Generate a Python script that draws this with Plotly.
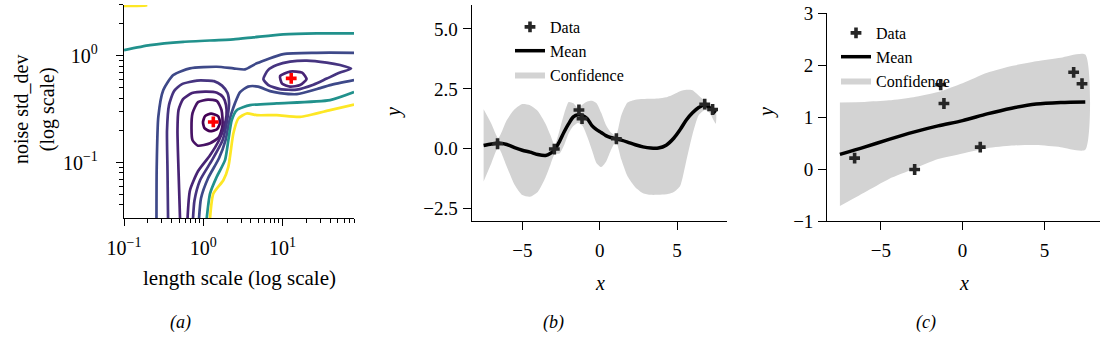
import plotly.graph_objects as go

SERIF = "'Liberation Serif', 'DejaVu Serif', 'Times New Roman', serif"
W, H = 1102, 339

# ---------------- Panel (a): contour lines ----------------
# every line: log10(length scale), log10(noise std_dev)
ring1_lx = [0.023, 0.098, 0.187, 0.212, 0.174, 0.086, 0.016, -0.003, 0.023]
ring1_ly = [-0.565, -0.542, -0.565, -0.626, -0.688, -0.706, -0.678, -0.622, -0.565]

loopA_lx = [-0.066, 0.061, 0.174, 0.231, 0.244, 0.199, 0.086, -0.066, -0.135, -0.148, -0.135, -0.066]
loopA_ly = [-0.434, -0.410, -0.424, -0.509, -0.650, -0.762, -0.819, -0.842, -0.791, -0.678, -0.537, -0.434]

ringR_lx = [0.970, 1.096, 1.248, 1.304, 1.222, 1.096, 0.995, 0.970]
ringR_ly = [-0.190, -0.147, -0.157, -0.218, -0.274, -0.288, -0.260, -0.190]

u3_lx = [-0.293, -0.312, -0.325, -0.312, -0.255, -0.141, 0.023, 0.174, 0.250, 0.288, 0.294, 0.263,
         0.199, 0.086, -0.066, -0.167, -0.198]
u3_ly = [-1.523, -1.072, -0.697, -0.509, -0.406, -0.349, -0.335, -0.345, -0.387, -0.462, -0.556, -0.669,
         -0.791, -0.932, -1.082, -1.260, -1.523]

u4_lx = [-0.444, -0.451, -0.457, -0.432, -0.369, -0.268, -0.078, 0.048, 0.136, 0.237, 0.307, 0.326,
         0.313, 0.288, 0.244, 0.111, -0.040, -0.110, -0.129]
u4_ly = [-1.523, -1.072, -0.697, -0.462, -0.331, -0.265, -0.232, -0.232, -0.237, -0.279, -0.349, -0.443,
         -0.545, -0.659, -0.791, -0.978, -1.166, -1.354, -1.523]

tear_lx = [0.759, 0.818, 0.928, 1.096, 1.307, 1.559, 1.727, 1.866, 1.727, 1.559, 1.390, 1.181, 0.970, 0.822, 0.759]
tear_ly = [-0.218, -0.133, -0.086, -0.054, -0.044, -0.063, -0.086, -0.119, -0.157, -0.213, -0.270, -0.316,
           -0.312, -0.274, -0.218]

o_top_lx = [-0.590, -0.587, -0.567, -0.504, -0.378, -0.167, 0.170, 0.380, 0.528, 0.675, 1.011, 1.433, 1.904]
o_top_ly = [-1.523, -1.041, -0.572, -0.321, -0.180, -0.117, -0.102, -0.117, -0.127, -0.070, 0.017, 0.029, 0.029]

o_low_lx = [1.904, 1.601, 1.475, 1.181, 0.970, 0.843, 0.692, 0.566, 0.465, 0.401, 0.357, 0.326, 0.282,
            0.199, 0.061, -0.028, -0.053]
o_low_ly = [-0.227, -0.274, -0.302, -0.359, -0.349, -0.331, -0.288, -0.288, -0.340, -0.443, -0.537, -0.622,
            -0.791, -0.960, -1.147, -1.335, -1.523]

teal_top_lx = [-1.0, -0.672, -0.251, 0.380, 0.633, 1.011, 1.433, 1.904]
teal_top_ly = [0.054, 0.101, 0.132, 0.155, 0.174, 0.202, 0.211, 0.211]

teal_low_lx = [0.044, 0.086, 0.170, 0.275, 0.317, 0.360, 0.423, 0.591, 0.928, 1.601, 1.904]
teal_low_ly = [-1.523, -1.291, -1.135, -0.978, -0.791, -0.603, -0.509, -0.462, -0.446, -0.415, -0.340]

yel_top_lx = [-1.0, -0.722, -0.71]
yel_top_ly = [0.468, 0.472, 0.477]

yel_low_lx = [0.086, 0.128, 0.254, 0.317, 0.380, 0.443, 0.549, 0.675, 0.928, 1.222, 1.601, 1.904]
yel_low_ly = [-1.523, -1.291, -1.166, -1.041, -0.728, -0.587, -0.540, -0.556, -0.556, -0.572, -0.509, -0.457]

opt_length_scale = [1.34, 12.9]
opt_noise = [0.24, 0.615]

level_colors = ["#440154", "#471365", "#482475", "#463480", "#3e4989", "#21918c", "#fde725"]

contours = [
    (ring1_lx, ring1_ly, 0),
    (loopA_lx, loopA_ly, 1),
    (ringR_lx, ringR_ly, 2),
    (u3_lx, u3_ly, 2),
    (u4_lx, u4_ly, 3),
    (tear_lx, tear_ly, 3),
    (o_top_lx, o_top_ly, 4),
    (o_low_lx, o_low_ly, 4),
    (teal_top_lx, teal_top_ly, 5),
    (teal_low_lx, teal_low_ly, 5),
    (yel_top_lx, yel_top_ly, 6),
    (yel_low_lx, yel_low_ly, 6),
]

# ---------------- Data points (same in b and c) ----------------
x_data = [-6.6, -2.93, -1.34, -1.14, 1.08, 6.79, 7.30]
y_data = [0.21, -0.01, 1.62, 1.26, 0.42, 1.86, 1.64]

# ---------------- Panel (b) ----------------
xb = [-7.5, -7.0, -6.55, -6.0, -5.5, -5.0, -4.5, -4.0, -3.5, -3.2, -2.9, -2.6, -2.3, -2.0, -1.7, -1.4,
      -1.1, -0.8, -0.5, -0.2, 0.1, 0.4, 0.7, 1.05, 1.4, 1.8, 2.3, 2.8, 3.3, 3.8, 4.3, 4.8, 5.2, 5.6,
      6.0, 6.4, 6.8, 7.1, 7.5]
mean_b = [0.14, 0.2, 0.24, 0.18, 0.05, -0.06, -0.14, -0.24, -0.28, -0.2, -0.02, 0.3, 0.7, 1.05, 1.33, 1.42,
          1.38, 1.25, 0.97, 0.8, 0.68, 0.55, 0.47, 0.42, 0.36, 0.28, 0.17, 0.08, 0.03, 0.03, 0.15, 0.45, 0.8, 1.2,
          1.5, 1.72, 1.83, 1.72, 1.5]
upper_b = [1.65, 1.05, 0.45, 1.2, 1.65, 1.87, 1.82, 1.58, 1.05, 0.6, 0.15, 0.75, 1.45, 1.95, 1.9, 1.7,
           1.85, 1.97, 2.0, 1.9, 1.5, 1.0, 0.7, 0.55, 1.4, 1.93, 2.05, 2.08, 2.09, 2.1, 2.15, 2.28, 2.4, 2.46,
           2.44, 2.22, 2.0, 1.85, 1.65]
lower_b = [-1.36, -0.6, 0.05, -0.75, -1.5, -1.93, -2.0, -1.8, -1.2, -0.7, -0.22, -0.2, 0.15, 0.65, 0.95, 1.08,
           0.95, 0.5, -0.05, -0.6, -0.76, -0.55, -0.1, 0.3, -0.45, -1.15, -1.6, -1.85, -1.92, -1.92, -1.9, -1.8,
           -1.55, -0.5, 0.6, 1.4, 1.62, 1.5, 1.05]

# ---------------- Panel (c) ----------------
xc = [-7.5, -6.0, -4.5, -3.0, -1.5, 0.0, 1.5, 3.0, 4.5, 6.0, 7.5]
mean_c = [0.28, 0.42, 0.57, 0.71, 0.83, 0.93, 1.06, 1.17, 1.25, 1.28, 1.29]
upper_c = [1.28, 1.29, 1.32, 1.38, 1.48, 1.65, 1.85, 1.98, 2.07, 2.14, 2.2]
lower_c = [-0.71, -0.45, -0.19, 0.0, 0.19, 0.3, 0.4, 0.45, 0.46, 0.42, 0.37]

fig = go.Figure()

# panel (a)
for lx, ly, lev in contours:
    fig.add_trace(go.Scatter(
        x=[10 ** v for v in lx], y=[10 ** v for v in ly], mode="lines",
        line=dict(color=level_colors[lev], width=2.7, shape="spline", smoothing=0.6),
        showlegend=False, hoverinfo="skip", xaxis="x", yaxis="y"))
fig.add_trace(go.Scatter(
    x=opt_length_scale, y=opt_noise, mode="markers",
    marker=dict(symbol="cross", size=9, color="red"),
    showlegend=False, xaxis="x", yaxis="y"))


def add_gp(xs, mean, up, lo, xa, ya, leg):
    fig.add_trace(go.Scatter(
        x=xs + xs[::-1], y=up + lo[::-1], fill="toself", fillcolor="#d3d3d3",
        line=dict(width=0, color="#d3d3d3", shape="spline", smoothing=0.6), mode="lines",
        name="Confidence", xaxis=xa, yaxis=ya, legend=leg))
    fig.add_trace(go.Scatter(
        x=xs, y=mean, mode="lines", line=dict(color="black", width=3.5, shape="spline", smoothing=0.8),
        name="Mean", xaxis=xa, yaxis=ya, legend=leg))
    fig.add_trace(go.Scatter(
        x=x_data, y=y_data, mode="markers",
        marker=dict(symbol="cross", size=9, color="#262626"),
        name="Data", xaxis=xa, yaxis=ya, legend=leg))


add_gp(xb, mean_b, upper_b, lower_b, "x2", "y2", "legend")
add_gp(xc, mean_c, upper_c, lower_c, "x3", "y3", "legend2")

axis_common = dict(showline=True, linecolor="black", linewidth=1.3, ticks="outside", ticklen=8,
                   tickwidth=1.2, tickcolor="black", showgrid=False, zeroline=False, mirror=False,
                   automargin=False)
tf_a = dict(family=SERIF, size=20, color="black")
tf_b = dict(family=SERIF, size=19, color="black")

minor_x = [0.2, 0.3, 0.4, 0.5, 0.6, 0.7, 0.8, 0.9, 2, 3, 4, 5, 6, 7, 8, 9, 20, 30, 40, 50, 60, 70, 80]
minor_y = [0.04, 0.05, 0.06, 0.07, 0.08, 0.09, 0.2, 0.3, 0.4, 0.5, 0.6, 0.7, 0.8, 0.9, 2, 3]

fig.update_layout(
    width=W, height=H, margin=dict(l=0, r=0, t=0, b=0, autoexpand=False),
    paper_bgcolor="white", plot_bgcolor="white",
    font=dict(family=SERIF, color="black"),
    xaxis=dict(axis_common, type="log", domain=[124 / W, 354 / W], range=[-1, 1.903], ticklen=7,
               tickvals=[0.1, 1, 10], ticktext=["10<sup>−1</sup>", "10<sup>0</sup>", "10<sup>1</sup>"],
               tickfont=tf_a, anchor="y", ticklabelstandoff=5,
               minor=dict(tickmode="array", tickvals=minor_x, ticks="outside", ticklen=3.5,
                          tickwidth=1, tickcolor="black", showgrid=False)),
    yaxis=dict(axis_common, type="log", domain=[1 - 218.3 / H, 1 - 5 / H], range=[-1.523, 0.477], ticklen=7,
               tickvals=[0.1, 1], ticktext=["10<sup>−1</sup>", "10<sup>0</sup>"],
               tickfont=tf_a, anchor="x", ticklabelstandoff=14,
               minor=dict(tickmode="array", tickvals=minor_y, ticks="outside", ticklen=3.5,
                          tickwidth=1, tickcolor="black", showgrid=False)),
    xaxis2=dict(axis_common, domain=[471.7 / W, 727 / W], range=[-8.27, 8.23],
                tickvals=[-5, 0, 5], tickfont=tf_b, anchor="y2", ticklabelstandoff=4),
    yaxis2=dict(axis_common, domain=[1 - 220.7 / H, 1 - 5 / H], range=[-3, 6],
                tickvals=[-2.5, 0, 2.5, 5], tickformat=".1f", tickfont=tf_b, anchor="x2",
                ticklabelstandoff=1),
    xaxis3=dict(axis_common, domain=[827.3 / W, 1100 / W], range=[-8.27, 8.4],
                tickvals=[-5, 0, 5], tickfont=tf_b, anchor="y3", ticklabelstandoff=4),
    yaxis3=dict(axis_common, domain=[1 - 221 / H, 1 - 13 / H], range=[-1, 3],
                tickvals=[-1, 0, 1, 2, 3], tickfont=tf_b, anchor="x3", ticklabelstandoff=1),
    legend=dict(x=510 / W, y=1 - 10 / H, xanchor="left", yanchor="top", traceorder="reversed",
                bgcolor="rgba(0,0,0,0)", font=dict(family=SERIF, size=16), itemwidth=30),
    legend2=dict(x=836 / W, y=1 - 16 / H, xanchor="left", yanchor="top", traceorder="reversed",
                 bgcolor="rgba(0,0,0,0)", font=dict(family=SERIF, size=16), itemwidth=30),
)

ann = []
def txt(text, x, y, size, angle=0):
    ann.append(dict(text=text, x=x / W, y=1 - y / H, xref="paper", yref="paper", showarrow=False,
                    textangle=angle, font=dict(family=SERIF, size=size, color="black"),
                    xanchor="center", yanchor="middle"))

txt("length scale (log scale)", 239, 278, 21)
txt("noise std_dev<br>(log scale)", 34, 110, 20, -90)
txt("<i>x</i>", 599.5, 283, 20)
txt("<i>y</i>", 393, 112, 20, -90)
txt("<i>x</i>", 964, 283, 20)
txt("<i>y</i>", 767, 113, 20, -90)
txt("<i>(a)</i>", 180, 322, 18)
txt("<i>(b)</i>", 553, 322, 18)
txt("<i>(c)</i>", 926, 322, 18)
fig.update_layout(annotations=ann)

fig.write_html("out.html")
